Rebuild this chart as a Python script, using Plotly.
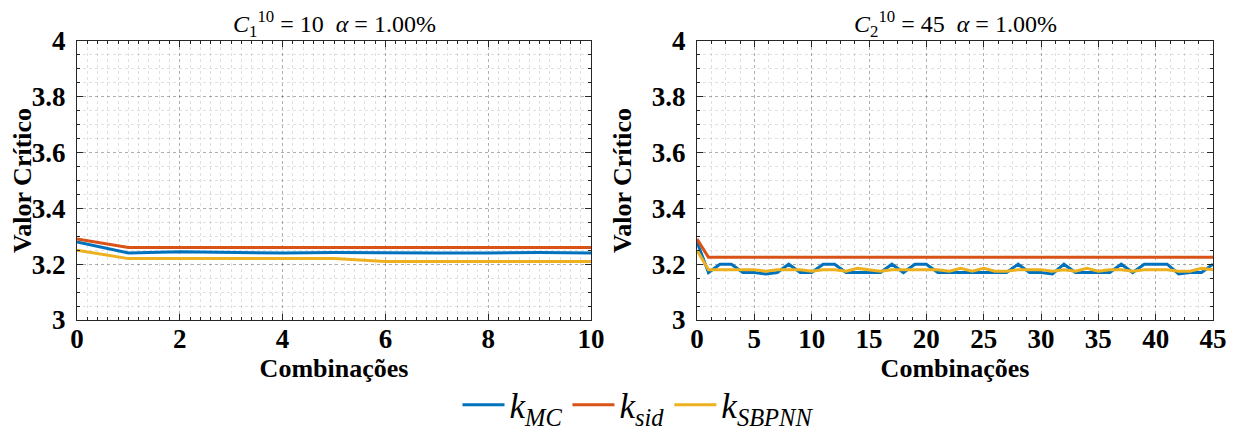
import plotly.graph_objects as go

# ---------------- data ----------------
x_left = list(range(0, 11))
mc_left = [3.28, 3.24, 3.245, 3.242, 3.24, 3.242, 3.24, 3.24, 3.24, 3.242, 3.24]
sid_left = [3.29, 3.26, 3.26, 3.26, 3.26, 3.26, 3.26, 3.26, 3.26, 3.26, 3.26]
sbpnn_left = [3.25, 3.22, 3.22, 3.22, 3.22, 3.22, 3.21, 3.21, 3.21, 3.21, 3.21]

x_right = list(range(0, 46))
mc_right = [3.28, 3.17, 3.20, 3.20, 3.17, 3.17, 3.165, 3.17, 3.20, 3.17,
            3.17, 3.20, 3.20, 3.17, 3.17, 3.17, 3.17, 3.20, 3.17, 3.20,
            3.20, 3.17, 3.17, 3.17, 3.17, 3.17, 3.17, 3.17, 3.20, 3.17,
            3.17, 3.165, 3.20, 3.17, 3.17, 3.17, 3.17, 3.20, 3.17, 3.20,
            3.20, 3.20, 3.165, 3.17, 3.17, 3.20]
sid_right = [3.29] + [3.225] * 45
sbpnn_right = [3.25, 3.18, 3.18, 3.18, 3.18, 3.18, 3.175, 3.18, 3.18, 3.18,
               3.175, 3.18, 3.18, 3.175, 3.185, 3.18, 3.175, 3.18, 3.18, 3.18,
               3.18, 3.18, 3.175, 3.185, 3.175, 3.185, 3.175, 3.175, 3.18, 3.18,
               3.18, 3.175, 3.18, 3.175, 3.185, 3.175, 3.18, 3.18, 3.175, 3.18,
               3.18, 3.18, 3.175, 3.175, 3.185, 3.18]

y_ticks = [3, 3.2, 3.4, 3.6, 3.8, 4]
y_ticklabels = ["3", "3.2", "3.4", "3.6", "3.8", "4"]
x_ticks_left = [0, 2, 4, 6, 8, 10]
x_ticks_right = [0, 5, 10, 15, 20, 25, 30, 35, 40, 45]

titles = ["<i>C</i><sub>1</sub><sup>10</sup> = 10  <i>α</i> = 1.00%",
          "<i>C</i><sub>2</sub><sup>10</sup> = 45  <i>α</i> = 1.00%"]
names = ["<i>k</i><sub><i>MC</i></sub>", "<i>k</i><sub><i>sid</i></sub>",
         "<i>k</i><sub><i>SBPNN</i></sub>"]
colors = ["#0072BD", "#D95319", "#EDB120"]
xlabel = "Combinações"
ylabel = "Valor Crítico"

# ---------------- figure ----------------
W, H = 1238, 432
OFF = 8  # page body margin
SERIF = "Liberation Serif, DejaVu Serif, Times New Roman, serif"
fig = go.Figure()

series_left = [mc_left, sid_left, sbpnn_left]
series_right = [mc_right, sid_right, sbpnn_right]
for i in range(3):
    fig.add_trace(go.Scatter(x=x_left, y=series_left[i], mode="lines", name=names[i],
                             line=dict(color=colors[i], width=3), xaxis="x", yaxis="y",
                             legendgroup=str(i)))
for i in range(3):
    fig.add_trace(go.Scatter(x=x_right, y=series_right[i], mode="lines", name=names[i],
                             line=dict(color=colors[i], width=3), xaxis="x2", yaxis="y2",
                             legendgroup=str(i), showlegend=False))

ydom = [1 - (320 - OFF) / H, 1 - (41 - OFF) / H]
lx = [(77 - OFF) / W, (591 - OFF) / W]
rx = [(697 - OFF) / W, (1213 - OFF) / W]

tickfont = dict(family=SERIF, size=27, color="black")
titlefont = dict(family=SERIF, size=26, color="black")
grid_major = "rgba(0,0,0,0.22)"
grid_minor = "rgba(0,0,0,0.12)"

def b(s):
    return "<b>" + s + "</b>"

def xaxis(dom, rng, tv, mdt, anchor):
    return dict(domain=dom, range=rng, tickvals=tv, ticktext=[b(str(v)) for v in tv],
                anchor=anchor, automargin=False,
                showline=True, linecolor="#262626", linewidth=1, mirror="allticks",
                ticks="inside", ticklen=6, tickcolor="#262626", ticklabelstandoff=-5,
                showgrid=True, gridcolor=grid_major, griddash="dot", gridwidth=1,
                minor=dict(dtick=mdt, tick0=0, ticks="inside", ticklen=3, tickcolor="#262626",
                           showgrid=True, gridcolor=grid_minor, griddash="dot"),
                zeroline=False, tickfont=tickfont,
                title=dict(text=b(xlabel), font=titlefont, standoff=0))

def yaxis(dom, anchor):
    return dict(domain=dom, range=[3, 4], tickvals=y_ticks,
                ticktext=[b(s) for s in y_ticklabels], anchor=anchor, automargin=False,
                showline=True, linecolor="#262626", linewidth=1, mirror="allticks",
                ticks="inside", ticklen=6, tickcolor="#262626", ticklabelstandoff=5,
                showgrid=True, gridcolor=grid_major, griddash="dot", gridwidth=1,
                minor=dict(dtick=0.05, tick0=3, ticks="inside", ticklen=3, tickcolor="#262626",
                           showgrid=True, gridcolor=grid_minor, griddash="dot"),
                zeroline=False, tickfont=tickfont,
                title=dict(text=b(ylabel), font=titlefont, standoff=12))

fig.update_layout(
    width=W, height=H,
    margin=dict(l=0, r=0, t=0, b=0, autoexpand=False),
    paper_bgcolor="white", plot_bgcolor="white",
    xaxis=xaxis(lx, [0, 10], x_ticks_left, 0.2, "y"),
    yaxis=yaxis(ydom, "x"),
    xaxis2=xaxis(rx, [0, 45], x_ticks_right, 1.25, "y2"),
    yaxis2=yaxis(ydom, "x2"),
    showlegend=True,
    legend=dict(orientation="h", x=(638 - OFF) / W, xanchor="center",
                y=1 - (405 - OFF) / H, yanchor="middle",
                font=dict(family=SERIF, size=35, color="black"),
                itemwidth=42, tracegroupgap=0, bgcolor="rgba(0,0,0,0)"),
)

for t, dom in zip(titles, [lx, rx]):
    fig.add_annotation(text=t, x=(dom[0] + dom[1]) / 2, y=1 - (24 - OFF) / H,
                       xref="paper", yref="paper",
                       xanchor="center", yanchor="middle", showarrow=False,
                       font=dict(family=SERIF, size=24, color="black"))

fig.write_html("out.html")
